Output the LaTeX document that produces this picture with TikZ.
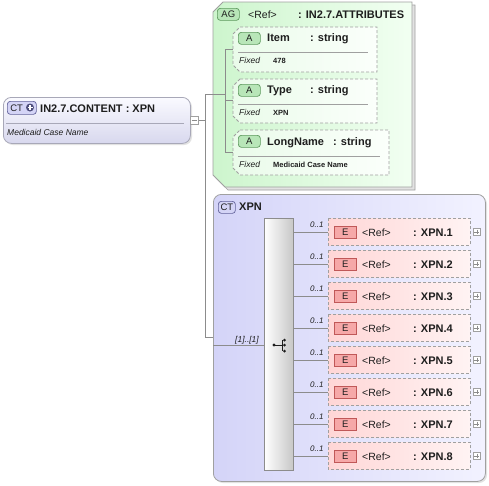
\documentclass[tikz,border=0pt]{standalone}
\usepackage{fontspec}
\setmainfont{Liberation Sans}
\definecolor{linec}{HTML}{8C8C8C}
\definecolor{txt}{HTML}{1E1E1E}
\definecolor{ctA}{HTML}{FAFAFF}
\definecolor{ctB}{HTML}{D8D8EE}
\definecolor{ctborder}{HTML}{A8A8B8}
\definecolor{agL}{HTML}{CDF5CD}
\definecolor{agR}{HTML}{F2FFF2}
\definecolor{boxborder}{HTML}{A0A0A0}
\definecolor{attL}{HTML}{EAFBEA}
\definecolor{attR}{HTML}{FBFFFB}
\definecolor{xpnL}{HTML}{D4D4F8}
\definecolor{xpnR}{HTML}{F2F2FF}
\definecolor{elL}{HTML}{FFD6D6}
\definecolor{elR}{HTML}{FFF3F3}
\definecolor{shadowc}{HTML}{E2E2E2}
\definecolor{ebadge}{HTML}{F6A8A8}
\definecolor{ebadgeb}{HTML}{C05858}
\definecolor{abadge}{HTML}{B8E6B8}
\definecolor{abadgeb}{HTML}{5E9A5E}
\definecolor{ctbadge}{HTML}{D4D4F6}
\definecolor{ctbadgeb}{HTML}{62629A}
\tikzset{
  conn/.style={draw=linec, line width=0.7pt},
  dashbox/.style={draw=boxborder, dashed, dash pattern=on 3pt off 2pt, line width=0.8pt},
  badge/.style={draw, rounded corners=3pt, inner sep=0pt, line width=0.7pt, text=txt,
      font=\fontsize{9.5}{10}\selectfont},
  bold11/.style={font=\fontsize{11}{12}\selectfont\bfseries, text=txt, inner sep=0pt, anchor=base west},
  reg10/.style={font=\fontsize{10.5}{12}\selectfont, text=txt, inner sep=0pt, anchor=base west},
  ital/.style={font=\fontsize{8.5}{10}\selectfont\itshape, text=txt, inner sep=0pt, anchor=base west},
  smallb/.style={font=\fontsize{7.5}{8}\selectfont\bfseries, text=txt, inner sep=0pt, anchor=base west},
  pmbox/.style={draw=boxborder, fill=white, minimum width=7pt, minimum height=7pt, inner sep=0pt, line width=0.5pt},
}
\begin{document}
\begin{tikzpicture}[x=1pt,y=-1pt]
\useasboundingbox (0,0) rectangle (489,485);
\fill[white] (0,0) rectangle (489,485);

% ---------- left CT node ----------
\fill[shadowc, rounded corners=8pt] (5,99) rectangle (192,145);
\node[draw=ctborder, line width=0.8pt, rounded corners=8pt, top color=ctA, bottom color=ctB,
      minimum width=187pt, minimum height=46pt, anchor=north west, inner sep=0pt] (content) at (3,97) {};
\node[badge, draw=ctbadgeb, fill=ctbadge, minimum width=29pt, minimum height=13pt, anchor=north west,
      text width=27pt, align=left] (ctplus) at (7,101) {\hspace*{2pt}CT};
\fill[ctbadgeb!80!black] (30,107.5) circle (4pt);
\draw[white, line width=1.2pt] (27.5,107.5) -- (32.5,107.5) (30,105) -- (30,110);
\node[bold11] (contentname) at (40,112) {IN2.7.CONTENT : XPN};
\draw[draw=ctborder, line width=0.6pt] (6,123) -- (184,123);
\node[ital] (contentdoc) at (7,135) {Medicaid Case Name};
\node[pmbox, minimum width=8pt, minimum height=8pt, anchor=west] (minus) at (190,120) {};
\draw[linec, line width=0.6pt] ([xshift=1.5pt]minus.west) -- ([xshift=-1.5pt]minus.east);

% ---------- AG attribute group ----------
\path[fill=shadowc, draw=boxborder, line width=0.6pt] (226,5) -- (415,5) -- (415,190) -- (228,190) -- (216,178) -- (216,15) -- cycle;
\path[draw=boxborder, line width=0.8pt, left color=agL, right color=agR] (223,2) -- (412,2) -- (412,187) -- (225,187) -- (213,175) -- (213,12) -- cycle;
\node[badge, draw=abadgeb, fill=abadge, minimum width=22pt, minimum height=12pt, anchor=north west] (agbadge) at (217,8) {AG};
\node[reg10] (agref) at (248,18) {<Ref>};
\node[bold11] (agname) at (298,18) {: IN2.7.ATTRIBUTES};

% Item
\path[dashbox, left color=attL, right color=attR] (240,27) -- (377,27) -- (377,72) -- (240,72) -- (233,65) -- (233,34) -- cycle;
\coordinate (itemW) at (233,49);
\node[badge, draw=abadgeb, fill=abadge, minimum width=22pt, minimum height=12pt, anchor=north west] (abadge1) at (238,32) {A};
\node[bold11] (item) at (267,41) {Item};
\node[bold11] (itemtype) at (310,41) {: string};
\draw[boxborder, line width=0.6pt] (238,52) -- (368,52);
\node[ital] (fixed1) at (239,63) {Fixed};
\node[smallb] (val1) at (273,63) {478};

% Type
\path[dashbox, left color=attL, right color=attR] (240,79) -- (377,79) -- (377,123) -- (240,123) -- (233,116) -- (233,86) -- cycle;
\coordinate (typeW) at (233,100);
\node[badge, draw=abadgeb, fill=abadge, minimum width=22pt, minimum height=12pt, anchor=north west] (abadge2) at (238,84) {A};
\node[bold11] (type) at (267,93) {Type};
\node[bold11] (typetype) at (310,93) {: string};
\draw[boxborder, line width=0.6pt] (238,104) -- (368,104);
\node[ital] (fixed2) at (239,115) {Fixed};
\node[smallb] (val2) at (273,115) {XPN};

% LongName
\path[dashbox, left color=attL, right color=attR] (240,130) -- (389,130) -- (389,175) -- (240,175) -- (233,168) -- (233,137) -- cycle;
\coordinate (longW) at (233,152);
\node[badge, draw=abadgeb, fill=abadge, minimum width=22pt, minimum height=12pt, anchor=north west] (abadge3) at (238,135) {A};
\node[bold11] (long) at (267,145) {LongName};
\node[bold11] (longtype) at (333,145) {: string};
\draw[boxborder, line width=0.6pt] (238,156) -- (380,156);
\node[ital] (fixed3) at (239,167) {Fixed};
\node[smallb] (val3) at (273,167) {Medicaid Case Name};

% ---------- CT XPN ----------
\fill[shadowc, rounded corners=8pt] (215,196) rectangle (487,483);
\node[draw=boxborder, line width=0.8pt, rounded corners=8pt, left color=xpnL, right color=xpnR,
      minimum width=272pt, minimum height=287pt, anchor=north west, inner sep=0pt] (xpn) at (213,194) {};
\node[badge, draw=ctbadgeb, fill=ctbadge, minimum width=17pt, minimum height=12pt, anchor=north west] (ctbadge) at (218,201) {CT};
\node[bold11] (xpnname) at (239,210) {XPN};

\node[draw=linec, line width=0.7pt, left color=white, right color=black!22,
      minimum width=29pt, minimum height=252pt, anchor=north west, inner sep=0pt] (seq) at (264,218) {};
% sequence icon
\node[inner sep=0pt, minimum size=16pt] (seqicon) at (280,345) {};
\fill[txt] (274,345) circle (1.7pt);
\draw[txt, line width=0.8pt] (274,345) -- (282,345);
\draw[txt, line width=0.8pt] (282,340) -- (282,351);
\fill[txt] (284.5,340) circle (1.5pt);
\fill[txt] (284.5,345) circle (1.5pt);
\fill[txt] (284.5,351) circle (1.5pt);

\foreach \i in {1,...,8} {
  \pgfmathsetmacro\t{218+32*(\i-1)}
  \path[dashbox, left color=elL, right color=elR] (328,\t) rectangle (470,\t+27);
  \coordinate (el\i) at (328,\t+14);
  \node[badge, rounded corners=0pt, draw=ebadgeb, fill=ebadge, minimum width=22pt, minimum height=12pt, anchor=north west] (eb\i) at (334,\t+8) {E};
  \node[reg10] (ref\i) at (362,\t+18) {<Ref>};
  \node[bold11] (name\i) at (413,\t+18) {: XPN.\i};
  \node[pmbox, anchor=west] (plus\i) at (473,\t+14) {};
  \draw[linec, line width=0.5pt] ([xshift=1.3pt]plus\i.west) -- ([xshift=-1.3pt]plus\i.east)
        ([yshift=-1.3pt]plus\i.north) -- ([yshift=1.3pt]plus\i.south);
  \node[ital, font=\fontsize{8}{9}\selectfont\itshape] (occ\i) at (310,\t+9) {0..1};
  \draw[conn] (seq.east |- el\i) -- (el\i);
}

% ---------- connectors ----------
\coordinate (busTop) at (205,94);
\coordinate (busBot) at (205,337);
\coordinate (attrTop) at (225,49);
\coordinate (attrBot) at (225,152);
\coordinate (xpnIn) at (213,345);
\draw[conn] (minus.east) -- (minus.east -| busTop);
\draw[conn] (busTop) -- (busBot) -- (busBot -| xpn.west);
\draw[conn] (busTop) -- (busTop -| attrTop);
\draw[conn] (attrTop) -- (attrBot);
\draw[conn] (attrTop) -- (itemW);
\draw[conn] (attrTop |- typeW) -- (typeW);
\draw[conn] (attrBot) -- (longW);
\draw[conn] (xpnIn) -- (seq.west |- xpnIn);
\node[ital] (card) at (235,342) {[1]..[1]};
\end{tikzpicture}
\end{document}
